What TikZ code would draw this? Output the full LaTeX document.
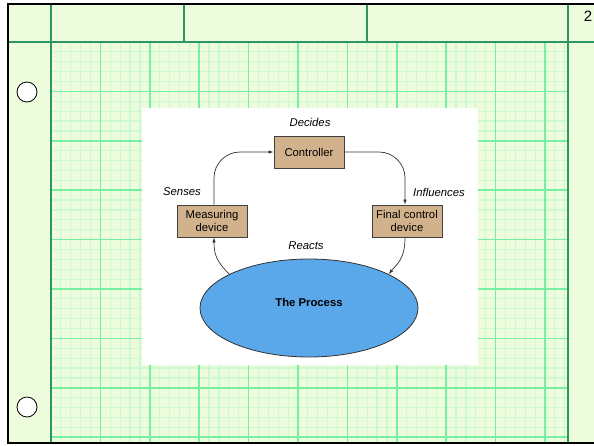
\documentclass[tikz,border=0pt]{standalone}
\usepackage{fontspec}
\setmainfont{Liberation Sans}
\usetikzlibrary{shapes.geometric,arrows.meta}

\definecolor{paper}{RGB}{236,252,220}
\definecolor{gridmajor}{RGB}{118,240,160}
\definecolor{gridminor}{RGB}{204,248,210}
\definecolor{ruledark}{RGB}{46,150,98}
\definecolor{boxtan}{RGB}{210,178,140}
\definecolor{procblue}{RGB}{90,168,234}

\tikzset{
  stage/.style={draw=black!75, fill=boxtan, line width=0.8pt, minimum width=70, minimum height=32,
    inner sep=2pt, align=center, font=\fontsize{11.3}{12.5}\selectfont},
  caption/.style={font=\fontsize{11.3}{13}\selectfont\itshape, inner sep=0pt},
  flow/.style={draw=black!80, line width=0.7pt, -{Latex[length=5pt,width=3.5pt]}},
  hole/.style={draw=black, fill=white, line width=0.8pt, circle, minimum size=20, inner sep=0pt},
  darkrule/.style={ruledark, line width=1.3pt},
}

\begin{document}
\begin{tikzpicture}[x=1pt,y=-1pt]
\useasboundingbox (0,0) rectangle (594,445);
\fill[white] (0,0) rectangle (594,445);
\fill[paper] (8,4) rectangle (594,443);

% graph paper grid
\begin{scope}
  \clip (51,42) rectangle (568,443);
  \foreach \i in {0,...,53}
    \draw[gridminor, line width=1.2pt] ({51+\i*9.88},42) -- ({51+\i*9.88},443);
  \foreach \j in {0,...,41}
    \draw[gridminor, line width=1.2pt] (51,{42+\j*9.88}) -- (568,{42+\j*9.88});
  \foreach \i in {1,...,10}
    \draw[gridmajor, line width=1.5pt] ({51+\i*49.4},42) -- ({51+\i*49.4},443);
  \foreach \j in {1,...,8}
    \draw[gridmajor, line width=1.5pt] (51,{42+\j*49.4}) -- (568,{42+\j*49.4});
\end{scope}

% header and margin rules
\draw[darkrule] (8,42) -- (594,42);
\draw[darkrule] (51,4) -- (51,443);
\draw[darkrule] (568,4) -- (568,443);
\draw[darkrule] (184,4) -- (184,42);
\draw[darkrule] (367,4) -- (367,42);

% outer border
\draw[black, line width=2.6pt] (594,4) -- (8,4) -- (8,443) -- (594,443);

% punched holes
\node[hole] (holeA) at (27,92) {};
\node[hole] (holeB) at (27,407) {};

% page number
\node[font=\fontsize{15}{15}\selectfont, inner sep=0pt] (pagenum) at (588,16) {2};

% white panel
\fill[white] (142,108) rectangle (478,365);

% control loop
\node[stage] (ctrl) at (309,152) {Controller};
\node[stage] (meas) at (212,221) {Measuring\\device};
\node[stage] (fcd) at (407,221) {Final control\\device};
\node[ellipse, draw=black!80, fill=procblue, line width=0.8pt, minimum width=218, minimum height=98,
  inner sep=0pt, text height=8pt, text depth=12pt,
  font=\fontsize{11.3}{13}\selectfont\bfseries] (proc) at (309,308) {The Process};

\node[caption] (lblDecides) at (310,122) {Decides};
\node[caption] (lblSenses) at (182,192) {Senses};
\node[caption] (lblInfl) at (439,192) {Influences};
\node[caption] (lblReacts) at (306,246) {Reacts};

\draw[flow, rounded corners=26pt] ([xshift=2pt]meas.north) |- (ctrl.west);
\draw[flow, rounded corners=26pt] (ctrl.east) -| ([xshift=-2pt]fcd.north);
\draw[flow] ([xshift=-2pt]fcd.south) .. controls +(0,22) and +(8,-10) .. (proc.23);
\draw[flow] (proc.157) .. controls +(-12,-12) and +(0,18) .. ([xshift=2pt]meas.south);
\end{tikzpicture}
\end{document}
